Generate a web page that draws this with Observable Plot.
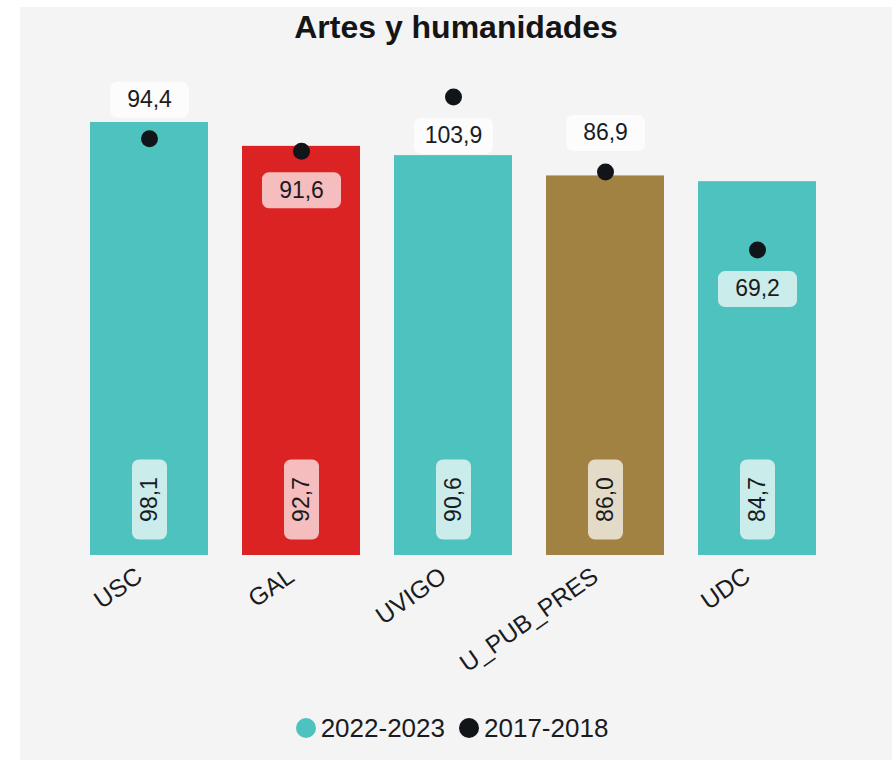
<!DOCTYPE html>
<html>
<head>
<meta charset="utf-8">
<script src="https://cdn.jsdelivr.net/npm/d3@7"></script>
<script src="https://cdn.jsdelivr.net/npm/@observablehq/plot@0.6"></script>
<style>
  html, body { margin: 0; padding: 0; background: #ffffff; }
  body { width: 892px; height: 762px; position: relative; overflow: hidden; font-family: "Liberation Sans", Arial, sans-serif; color: #1b1b1f; }
  #panel { position: absolute; left: 20px; top: 7px; width: 872px; height: 753px; background: #f4f4f4; }
  #title { position: absolute; top: 2px; left: 0; width: 100%; text-align: center; font-weight: bold; font-size: 32px; line-height: 36px; color: #151515; }
  #chart { position: absolute; left: 0; top: 43px; }
  #legend { position: absolute; left: 0; width: 100%; top: 704px; display: flex; justify-content: center; align-items: center; font-size: 26px; line-height: 34px; gap: 14px; margin-left: -4px; }
  .item { display: flex; align-items: center; gap: 5px; }
  .sw { width: 20px; height: 20px; border-radius: 50%; display: inline-block; }
</style>
</head>
<body>
<div id="panel">
  <div id="title">Artes y humanidades</div>
  <div id="chart"></div>
  <div id="legend"></div>
</div>
<script>
// ---- data ----
const categories = ["USC", "GAL", "UVIGO", "U_PUB_PRES", "UDC"];
const values2223 = [98.1, 92.7, 90.6, 86.0, 84.7];
const values1718 = [94.4, 91.6, 103.9, 86.9, 69.2];
const barColors = ["#4ec2be", "#dc2323", "#4ec2be", "#a28243", "#4ec2be"];
const dotLabelSide = ["above", "below", "below", "above", "below"];
const seriesNames = ["2022-2023", "2017-2018"];
const seriesColors = ["#4ec2be", "#111418"];

const rows = categories.map((c, i) => ({
  cat: c, cur: values2223[i], prev: values1718[i], color: barColors[i], side: dotLabelSide[i]
}));
const fmt = v => v.toFixed(1).replace(".", ",");

function roundRect(w, h, r) {
  return {
    draw(ctx) {
      const x0 = -w / 2, y0 = -h / 2, x1 = w / 2, y1 = h / 2;
      ctx.moveTo(x0 + r, y0);
      ctx.lineTo(x1 - r, y0);
      ctx.arcTo(x1, y0, x1, y0 + r, r);
      ctx.lineTo(x1, y1 - r);
      ctx.arcTo(x1, y1, x1 - r, y1, r);
      ctx.lineTo(x0 + r, y1);
      ctx.arcTo(x0, y1, x0, y1 - r, r);
      ctx.lineTo(x0, y0 + r);
      ctx.arcTo(x0, y0, x0 + r, y0, r);
      ctx.closePath();
    }
  };
}

const font = "Liberation Sans, Arial, sans-serif";
const textColor = "#1b1b1f";
const labelBox = roundRect(79, 36, 7);

function dotLabel(side, dy) {
  const f = d => d.side === side;
  return [
    Plot.dot(rows, { filter: f, x: "cat", y: "prev", dy, symbol: labelBox, fill: "white", fillOpacity: 0.7, stroke: "none", r: 5 }),
    Plot.text(rows, { filter: f, x: "cat", y: "prev", dy, text: d => fmt(d.prev), fontSize: 23, fill: textColor })
  ];
}

const plot = Plot.plot({
  width: 872,
  height: 640,
  marginLeft: 35,
  marginRight: 41,
  marginTop: 19.5,
  marginBottom: 135,
  style: { background: "transparent", fontFamily: font },
  x: { domain: categories, padding: 0.224, axis: null },
  y: { domain: [0, 110], axis: null },
  marks: [
    Plot.barY(rows, { x: "cat", y: "cur", fill: d => d.color }),
    // bar value label boxes + labels
    Plot.dot(rows, { x: "cat", y: d => 0, dy: -56, symbol: roundRect(35, 80, 7), fill: "white", fillOpacity: 0.7, stroke: "none", r: 5 }),
    Plot.text(rows, { x: "cat", y: d => 0, dy: -56, text: d => fmt(d.cur), rotate: -90, fontSize: 23, fill: textColor }),
    // previous period dots
    Plot.dot(rows, { x: "cat", y: "prev", r: 8.5, fill: "#111418", stroke: "none" }),
    ...dotLabel("above", -39),
    ...dotLabel("below", 39),
    // category labels
    Plot.text(categories, { x: d => d, y: d => 0, text: d => d, rotate: -35, textAnchor: "end", dx: -10, dy: 18, fontSize: 24.5, fill: textColor })
  ]
});
document.getElementById("chart").appendChild(plot);

const legend = document.getElementById("legend");
seriesNames.forEach((n, i) => {
  const it = document.createElement("div");
  it.className = "item";
  it.innerHTML = `<span class="sw" style="background:${seriesColors[i]}"></span><span>${n}</span>`;
  legend.appendChild(it);
});
</script>
</body>
</html>
